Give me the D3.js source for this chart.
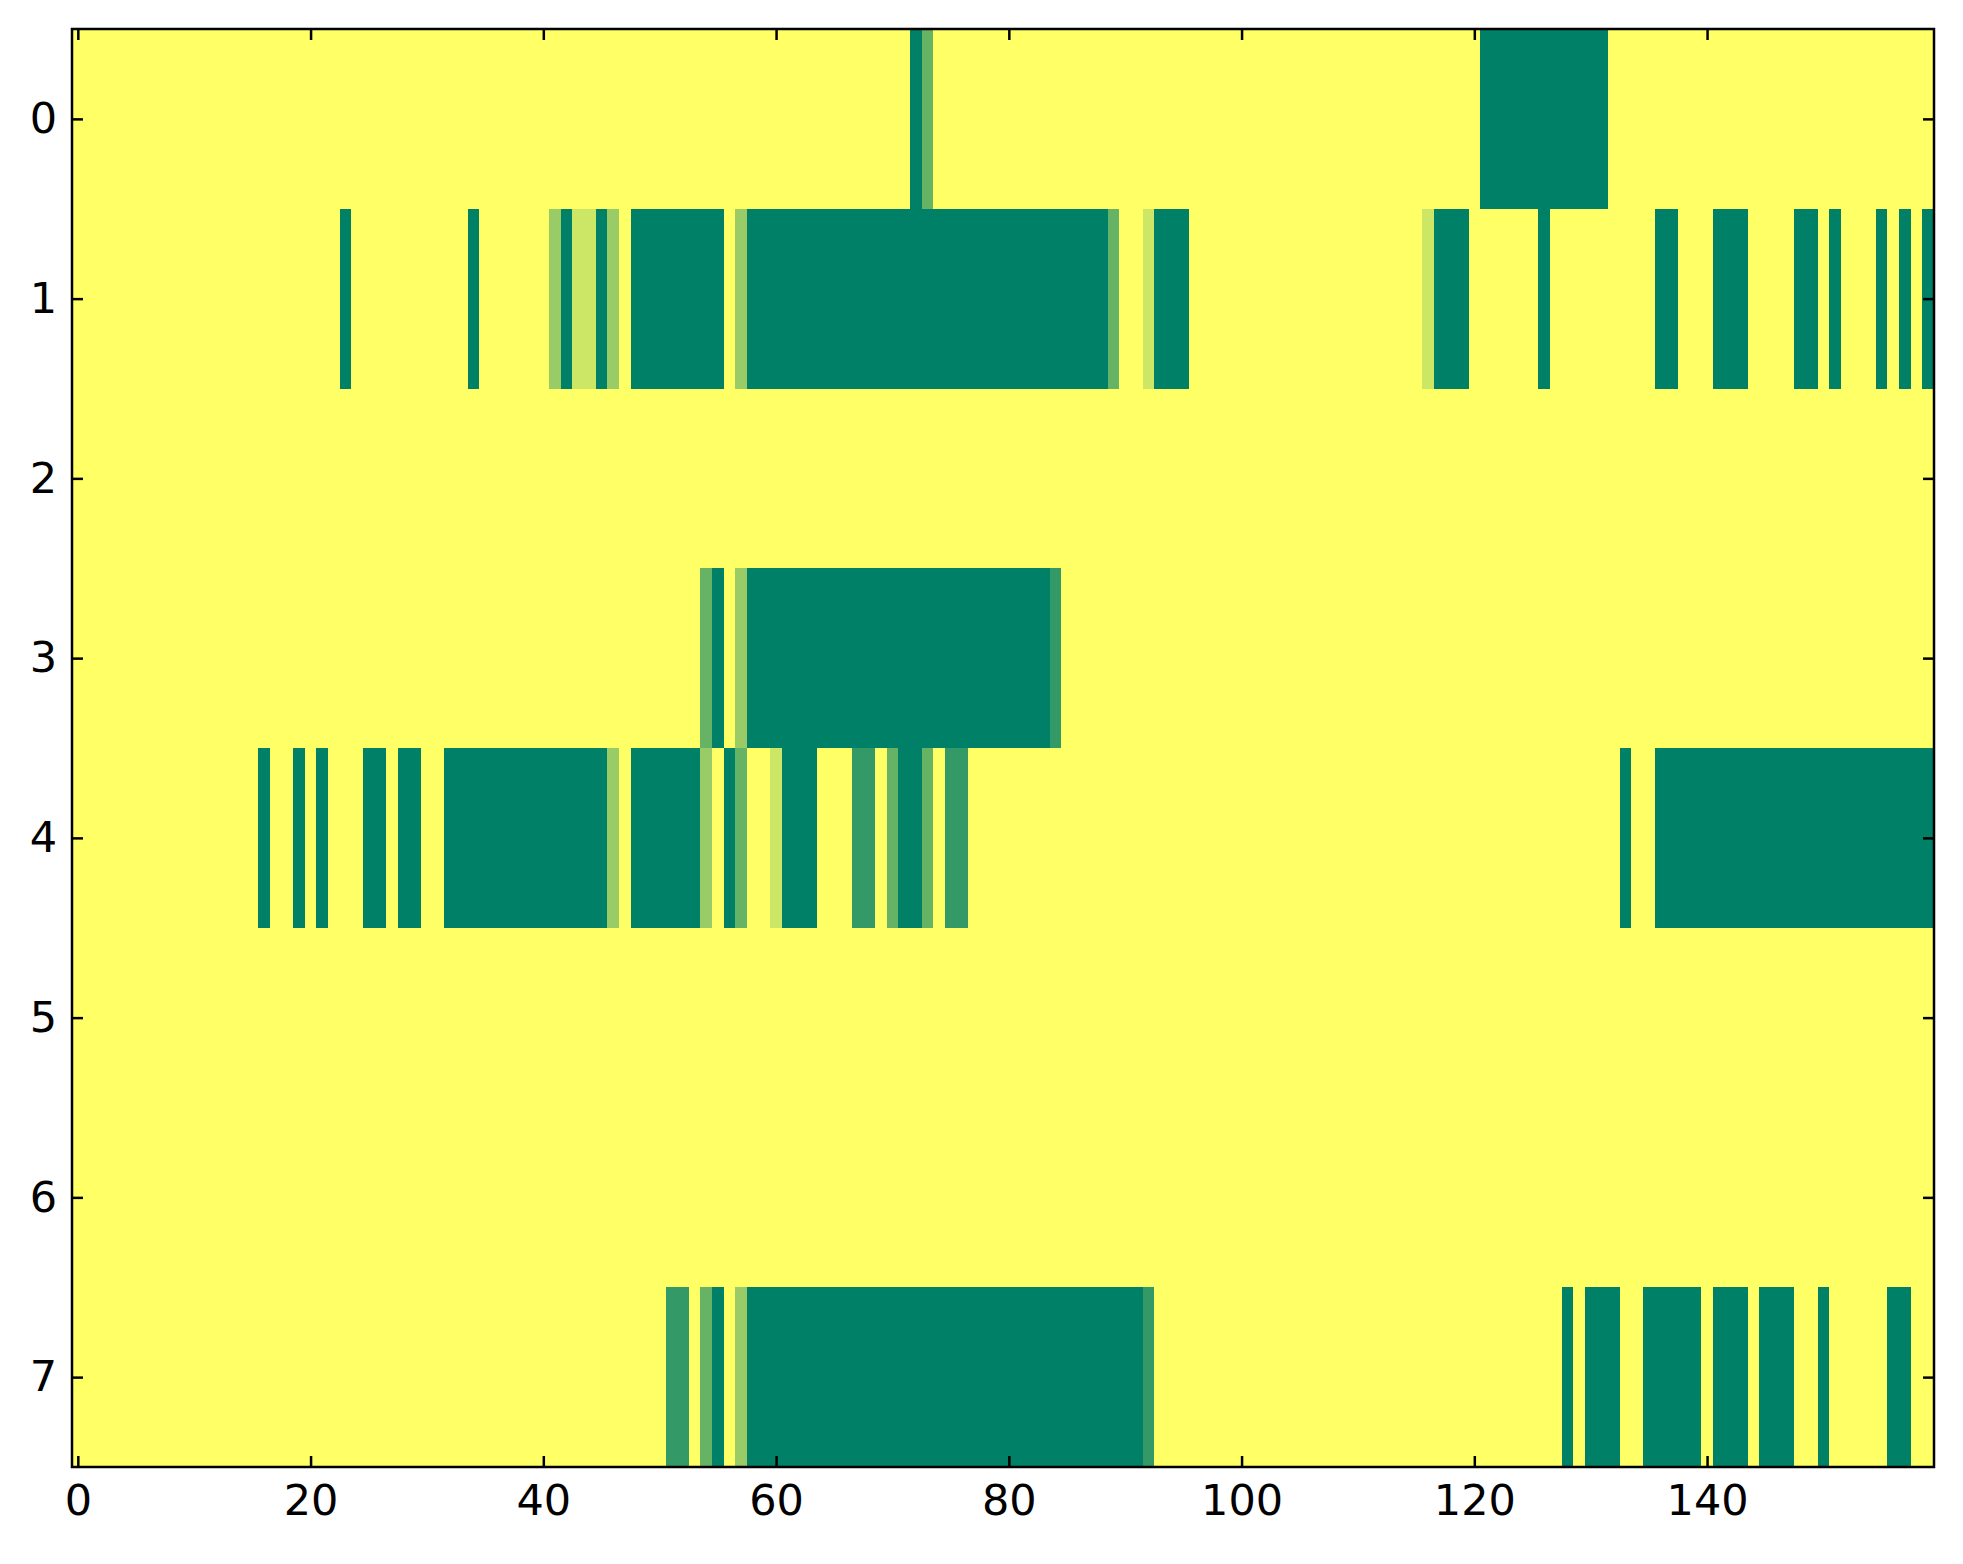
<!DOCTYPE html>
<html>
<head>
<meta charset="utf-8">
<script src="https://cdn.jsdelivr.net/npm/d3@7"></script>
<style>
  body { margin: 0; background: #fff; }
  text { font-family: "DejaVu Sans", sans-serif; }
</style>
</head>
<body>
<script>
var width = 1963,
    height = 1564;

var nCols = 160;
var rowLabels = [0, 1, 2, 3, 4, 5, 6, 7];
var xTicks = [0, 20, 40, 60, 80, 100, 120, 140];

// runs of non-zero cells per row: [firstCol, lastCol, value]
var row0 = [[72,72,1],[73,73,0.6],[121,131,1]];
var row1 = [[23,23,1],[34,34,1],[41,41,0.4],[42,42,1],[43,44,0.2],[45,45,1],[46,46,0.4],
            [48,55,1],[57,57,0.4],[58,88,1],[89,89,0.6],[92,92,0.2],[93,95,1],[116,116,0.2],
            [117,119,1],[126,126,1],[136,137,1],[141,143,1],[148,149,1],[151,151,1],
            [155,155,1],[157,157,1],[159,159,1]];
var row2 = [];
var row3 = [[54,54,0.6],[55,55,1],[57,57,0.4],[58,83,1],[84,84,0.8]];
var row4 = [[16,16,1],[19,19,1],[21,21,1],[25,26,1],[28,29,1],[32,45,1],[46,46,0.4],
            [48,53,1],[54,54,0.4],[56,56,1],[57,57,0.6],[60,60,0.2],[61,63,1],[67,68,0.8],
            [70,70,0.6],[71,72,1],[73,73,0.6],[75,76,0.8],[133,133,1],[136,159,1]];
var row5 = [];
var row6 = [];
var row7 = [[51,52,0.8],[54,54,0.6],[55,55,1],[57,57,0.4],[58,91,1],[92,92,0.8],
            [128,128,1],[130,132,1],[135,139,1],[141,143,1],[145,147,1],[150,150,1],[156,157,1]];

var rowRuns = [row0, row1, row2, row3, row4, row5, row6, row7];

// expand the runs into a full grid of cells
var cells = [];
rowRuns.forEach(function(runs, r) {
  var vals = new Array(nCols).fill(0);
  runs.forEach(function(run) {
    for (var c = run[0]; c <= run[1]; c++) vals[c] = run[2];
  });
  vals.forEach(function(v, c) { cells.push({row: r, col: c, value: v}); });
});

var margin = {top: 29, right: 29, bottom: 97, left: 72};

var x = d3.scaleLinear()
    .domain([-0.5, nCols - 0.5])
    .range([margin.left, width - margin.right]);

var y = d3.scaleLinear()
    .domain([-0.5, rowLabels.length - 0.5])
    .range([margin.top, height - margin.bottom]);

// summer_r colormap
var color = d3.scaleLinear()
    .domain([0, 1])
    .range(["#ffff66", "#008066"]);

var svg = d3.select("body").append("svg")
    .attr("width", width)
    .attr("height", height);

svg.append("g")
  .selectAll("rect")
  .data(cells)
  .enter()
  .append("rect")
    .attr("x", function(d) { return x(d.col - 0.5); })
    .attr("y", function(d) { return y(d.row - 0.5); })
    .attr("width", function(d) { return x(d.col + 0.5) - x(d.col - 0.5); })
    .attr("height", function(d) { return y(d.row + 0.5) - y(d.row - 0.5); })
    .attr("shape-rendering", "crispEdges")
    .style("fill", function(d) { return color(d.value); });

var tickLen = 11;

// axes: inward ticks on all four sides (classic matplotlib look)
var bottomAxis = d3.axisBottom(x).tickValues(xTicks).tickSizeInner(-tickLen).tickSizeOuter(0).tickPadding(17);
var topAxis = d3.axisTop(x).tickValues(xTicks).tickSizeInner(-tickLen).tickSizeOuter(0).tickFormat("");
var leftAxis = d3.axisLeft(y).tickValues(rowLabels).tickSizeInner(-tickLen).tickSizeOuter(0).tickPadding(15);
var rightAxis = d3.axisRight(y).tickValues(rowLabels).tickSizeInner(-tickLen).tickSizeOuter(0).tickFormat("");

svg.append("g").attr("transform", "translate(0," + y(rowLabels.length - 0.5) + ")").call(bottomAxis);
svg.append("g").attr("transform", "translate(0," + y(-0.5) + ")").call(topAxis);
svg.append("g").attr("transform", "translate(" + x(-0.5) + ",0)").call(leftAxis);
svg.append("g").attr("transform", "translate(" + x(nCols - 0.5) + ",0)").call(rightAxis);

svg.selectAll(".domain").remove();
svg.selectAll(".tick line").style("stroke", "#000").style("stroke-width", 2.5);
svg.selectAll(".tick text")
    .style("font-family", "'DejaVu Sans', sans-serif")
    .style("font-size", "43px")
    .style("fill", "#000");

// frame
svg.append("rect")
    .attr("x", x(-0.5))
    .attr("y", y(-0.5))
    .attr("width", x(nCols - 0.5) - x(-0.5))
    .attr("height", y(rowLabels.length - 0.5) - y(-0.5))
    .style("fill", "none")
    .style("stroke", "#000")
    .style("stroke-width", 2.5);
</script>
</body>
</html>
